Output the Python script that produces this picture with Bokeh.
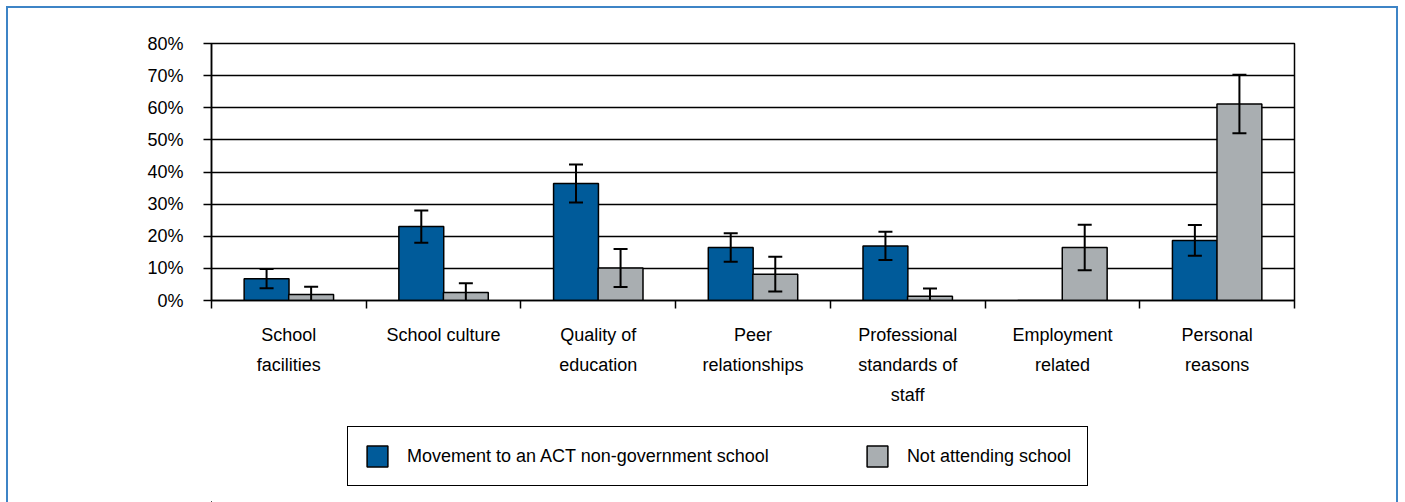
from bokeh.plotting import figure
from bokeh.layouts import column
from bokeh.models import (ColumnDataSource, FixedTicker, Whisker, TeeHead,
                          Legend, LegendItem)
from bokeh.embed import file_html
from bokeh.resources import INLINE

# ---- data ----
categories = ["School\nfacilities", "School culture", "Quality of\neducation",
              "Peer\nrelationships", "Professional\nstandards of\nstaff",
              "Employment\nrelated", "Personal\nreasons"]
series_names = ["Movement to an ACT non-government school", "Not attending school"]
movement = [6.8, 23.0, 36.4, 16.5, 17.0, 0.0, 18.7]
movement_err = [3.0, 5.0, 5.9, 4.4, 4.4, 0.0, 4.8]
not_attending = [1.9, 2.5, 10.1, 8.2, 1.35, 16.5, 61.2]
not_attending_err = [2.4, 2.9, 5.9, 5.4, 2.4, 7.1, 9.1]
y_ticks = [0, 10, 20, 30, 40, 50, 60, 70, 80]
y_tick_labels = ["0%", "10%", "20%", "30%", "40%", "50%", "60%", "70%", "80%"]

FONT = "Liberation Sans"
FS = "18px"
BLUE = "#005b9a"
GRAY = "#a9aeb1"

n = len(categories)
p = figure(frame_width=1083, frame_height=257,
           min_border_left=203, min_border_right=102,
           min_border_top=35, min_border_bottom=110,
           x_range=(0, n), y_range=(0, 80),
           output_backend="svg", toolbar_location=None)
p.background_fill_color = "white"
p.border_fill_color = "white"
p.outline_line_color = "black"
p.outline_line_width = 1.5

off = 0.144
w = 0.29
centers = [i + 0.5 for i in range(n)]

src_a = ColumnDataSource(dict(x=[c - off for c in centers], top=movement,
                              up=[v + e for v, e in zip(movement, movement_err)],
                              lo=[v - e for v, e in zip(movement, movement_err)],
                              e=movement_err))
src_b = ColumnDataSource(dict(x=[c + off for c in centers], top=not_attending,
                              up=[v + e for v, e in zip(not_attending, not_attending_err)],
                              lo=[v - e for v, e in zip(not_attending, not_attending_err)],
                              e=not_attending_err))

p.vbar(x="x", top="top", bottom=0, width=w, source=src_a,
       fill_color=BLUE, line_color="black", line_width=1.5)
p.vbar(x="x", top="top", bottom=0, width=w, source=src_b,
       fill_color=GRAY, line_color="black", line_width=1.5)

for src in (src_a, src_b):
    d = src.data
    keep = [i for i in range(n) if d["e"][i] > 0]
    ws = ColumnDataSource(dict(x=[d["x"][i] for i in keep],
                               up=[d["up"][i] for i in keep],
                               lo=[d["lo"][i] for i in keep]))
    wh = Whisker(base="x", upper="up", lower="lo", source=ws,
                 line_color="black", line_width=2, level="overlay",
                 upper_head=TeeHead(size=14, line_color="black", line_width=2),
                 lower_head=TeeHead(size=14, line_color="black", line_width=2))
    p.add_layout(wh)

# y axis
p.yaxis.ticker = FixedTicker(ticks=y_ticks)
p.yaxis.major_label_overrides = {t: l for t, l in zip(y_ticks, y_tick_labels)}
p.yaxis.major_tick_out = 8
p.yaxis.major_tick_in = 0
p.yaxis.minor_tick_line_color = None
p.yaxis.major_tick_line_width = 1.5
p.yaxis.axis_line_width = 1.5
p.yaxis.major_label_standoff = 20
p.yaxis.major_label_text_font = FONT
p.yaxis.major_label_text_font_size = FS
p.yaxis.major_label_text_color = "black"

p.ygrid.ticker = FixedTicker(ticks=y_ticks)
p.ygrid.grid_line_color = "black"
p.ygrid.grid_line_width = 1.5
p.xgrid.grid_line_color = None

# x axis
p.xaxis.ticker = FixedTicker(ticks=centers, minor_ticks=list(range(n + 1)))
p.xaxis.major_label_overrides = {c: l for c, l in zip(centers, categories)}
p.xaxis.major_tick_line_color = None
p.xaxis.major_tick_out = 0
p.xaxis.major_tick_in = 0
p.xaxis.minor_tick_out = 8
p.xaxis.minor_tick_in = 0
p.xaxis.minor_tick_line_width = 1.5
p.xaxis.axis_line_width = 1.5
p.xaxis.major_label_standoff = 16
p.xaxis.major_label_text_font = FONT
p.xaxis.major_label_text_font_size = FS
p.xaxis.major_label_text_color = "black"
p.xaxis.major_label_text_line_height = 1.52

# ---- legend strip (same series, ranges set so that only the legend shows) ----
q = figure(width=1388, height=92, min_border=0,
           x_range=(1000, 1001), y_range=(1000, 1001),
           x_axis_type=None, y_axis_type=None,
           output_backend="svg", toolbar_location=None)
q.outline_line_color = None
q.grid.grid_line_color = None
q.background_fill_color = "white"
q.border_fill_color = "white"
l_a = q.vbar(x="x", top="top", bottom=0, width=w, source=src_a,
             fill_color=BLUE, line_color="black", line_width=1.5)
l_b = q.vbar(x="x", top="top", bottom=0, width=w, source=src_b,
             fill_color=GRAY, line_color="black", line_width=1.5)
legend = Legend(items=[LegendItem(label=series_names[0], renderers=[l_a]),
                       LegendItem(label=series_names[1], renderers=[l_b])],
                orientation="horizontal", location=(136, 16),
                glyph_width=26, glyph_height=26, label_standoff=17,
                spacing=95, padding=16, margin=0,
                label_text_font=FONT, label_text_font_size=FS,
                label_text_color="black",
                border_line_color="black", border_line_width=1.5,
                border_line_alpha=1.0,
                background_fill_alpha=1.0)
q.add_layout(legend, "center")

layout = column(p, q, spacing=0)
layout.styles = {"border-left": "2px solid #3d84c6", "border-top": "2px solid #3d84c6",
                 "border-right": "2px solid #3d84c6",
                 "margin-left": "6px", "margin-top": "6px"}

open("out.html", "w").write(file_html(layout, INLINE))
